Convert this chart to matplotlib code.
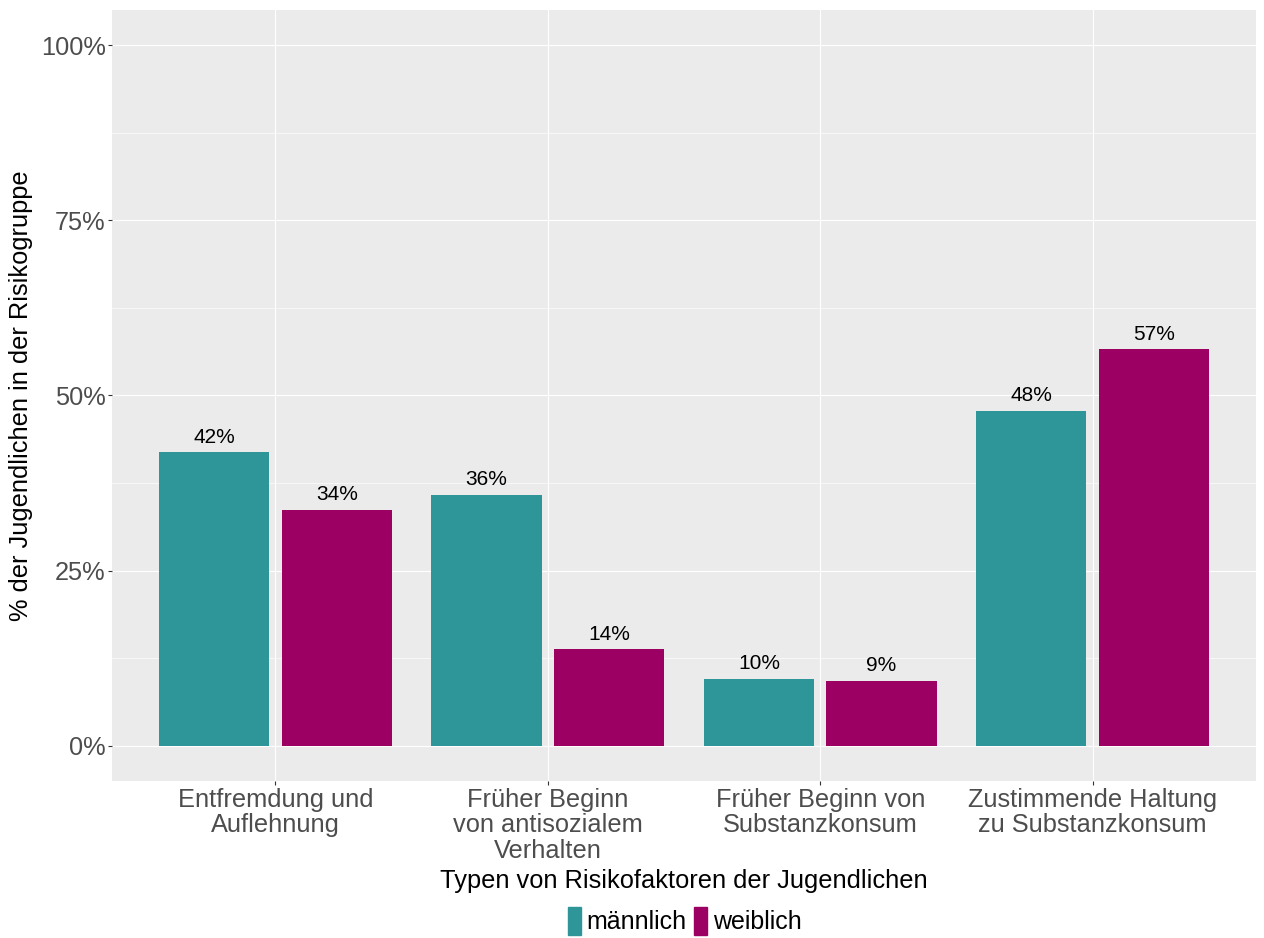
import numpy as np
import matplotlib
matplotlib.use("Agg")
from matplotlib import pyplot as plt
from matplotlib.patches import Patch
from matplotlib.ticker import MultipleLocator

plt.rcParams['font.family'] = ['Liberation Sans', 'DejaVu Sans']

# data
categories = ["Entfremdung und\nAuflehnung",
              "Früher Beginn\nvon antisozialem\nVerhalten",
              "Früher Beginn von\nSubstanzkonsum",
              "Zustimmende Haltung\nzu Substanzkonsum"]
maennlich = [41.9, 35.8, 9.6, 47.8]
weiblich = [33.7, 13.8, 9.3, 56.6]
labels_m = ["42%", "36%", "10%", "48%"]
labels_w = ["34%", "14%", "9%", "57%"]
series_names = ["männlich", "weiblich"]
colors = ["#2E9599", "#9B0062"]
yticks = [0, 25, 50, 75, 100]

fig = plt.figure(figsize=(12.64, 9.38), dpi=100)
ax = fig.add_axes([112 / 1264, 1 - 781 / 938, (1256 - 112) / 1264, (781 - 10) / 938])
ax.set_facecolor("#EBEBEB")

x = np.arange(1, len(categories) + 1)
offset, width = 0.225, 0.405
for vals, labs, col, sgn in [(maennlich, labels_m, colors[0], -1),
                             (weiblich, labels_w, colors[1], 1)]:
    ax.bar(x + sgn * offset, vals, width=width, color=col, zorder=3)
    for xi, v, l in zip(x, vals, labs):
        ax.text(xi + sgn * offset, v + 0.8, l, ha="center", va="bottom",
                fontsize=15, color="black", zorder=4)

ax.set_xlim(0.4, 4.6)
ax.set_ylim(-5, 105)
ax.set_yticks(yticks)
ax.set_yticklabels([f"{t}%" for t in yticks])
ax.yaxis.set_minor_locator(MultipleLocator(12.5))
ax.set_xticks(x)
ax.set_xticklabels(categories, fontsize=18.3, color="#4D4D4D", linespacing=1.08)
ax.tick_params(axis="y", labelsize=18.3, labelcolor="#4D4D4D", pad=1.5)
ax.tick_params(axis="x", pad=2)
ax.tick_params(which="major", length=3, color="#333333", width=0.8)
ax.tick_params(which="minor", length=0)
ax.grid(which="major", color="white", linewidth=0.85, zorder=0)
ax.grid(which="minor", axis="y", color="white", linewidth=0.45, zorder=0)
ax.set_axisbelow(True)
for s in ax.spines.values():
    s.set_visible(False)

ax.set_ylabel("% der Jugendlichen in der Risikogruppe", fontsize=18.3, labelpad=6)
fig.text((112 + 1256) / 2 / 1264, 1 - 881 / 938, "Typen von Risikofaktoren der Jugendlichen",
         ha="center", va="center", fontsize=18.3)

handles = [Patch(color=c, label=n) for c, n in zip(colors, series_names)]
fig.legend(handles=handles, loc="center", bbox_to_anchor=(685 / 1264, 1 - 921 / 938),
           ncol=2, frameon=False, fontsize=18, handlelength=0.5, handleheight=1.4,
           handletextpad=0.25, columnspacing=0.3, borderpad=0)

fig.savefig("out.png", dpi=100)
